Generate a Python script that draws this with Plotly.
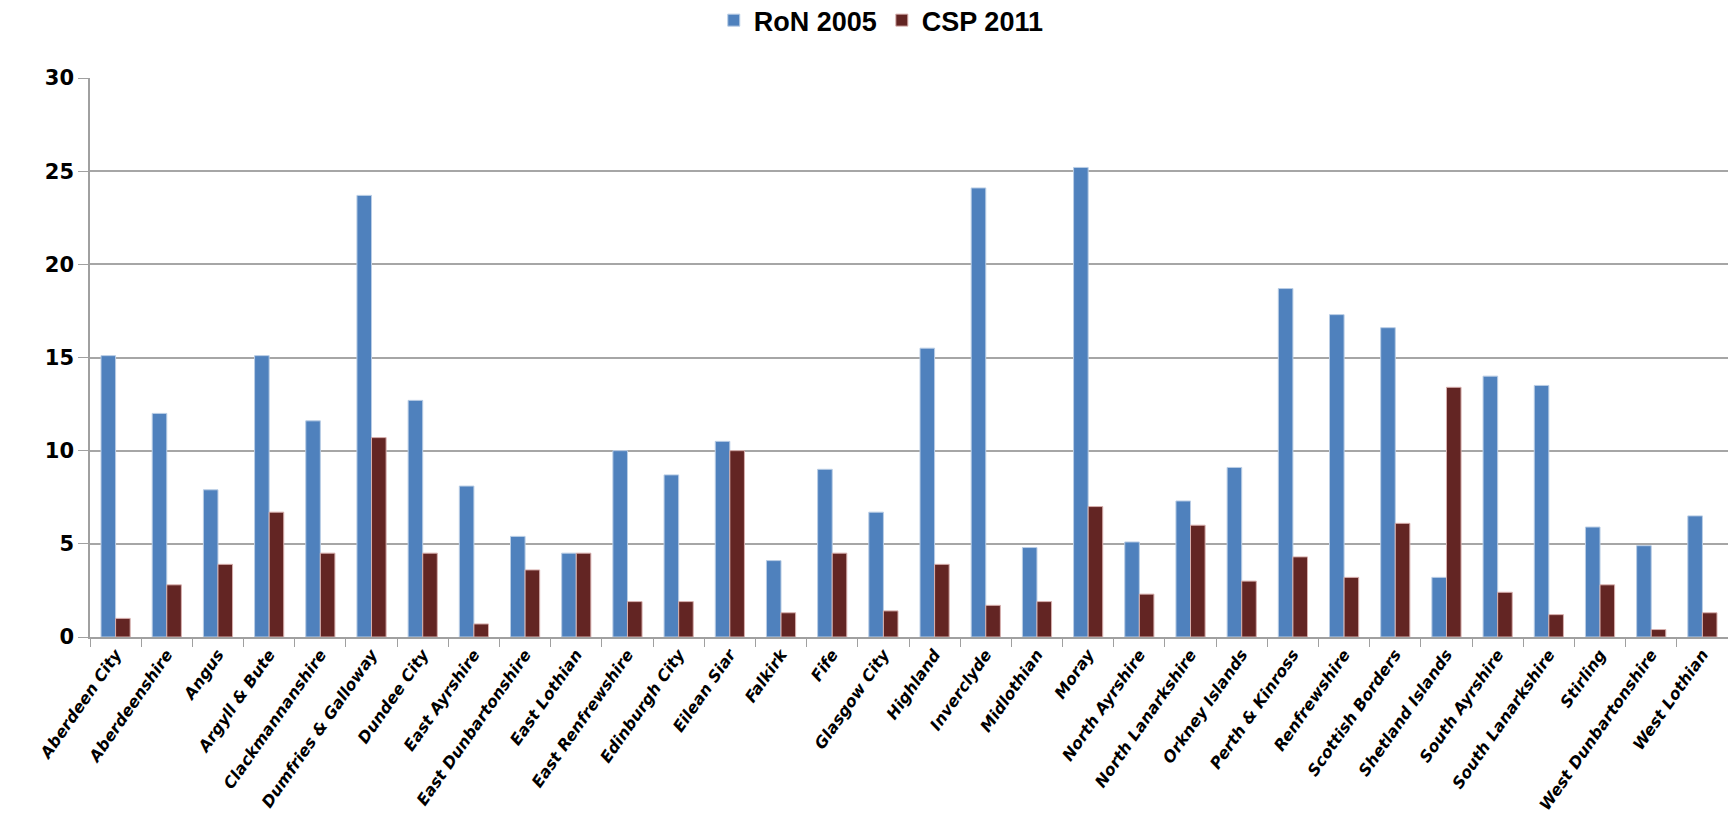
import plotly.graph_objects as go

categories = ["Aberdeen City", "Aberdeenshire", "Angus", "Argyll & Bute", "Clackmannanshire",
              "Dumfries & Galloway", "Dundee City", "East Ayrshire", "East Dunbartonshire",
              "East Lothian", "East Renfrewshire", "Edinburgh City", "Eilean Siar", "Falkirk",
              "Fife", "Glasgow City", "Highland", "Inverclyde", "Midlothian", "Moray",
              "North Ayrshire", "North Lanarkshire", "Orkney Islands", "Perth & Kinross",
              "Renfrewshire", "Scottish Borders", "Shetland Islands", "South Ayrshire",
              "South Lanarkshire", "Stirling", "West Dunbartonshire", "West Lothian"]

ron_2005 = [15.1, 12.0, 7.9, 15.1, 11.6, 23.7, 12.7, 8.1, 5.4, 4.5, 10.0, 8.7, 10.5, 4.1,
            9.0, 6.7, 15.5, 24.1, 4.8, 25.2, 5.1, 7.3, 9.1, 18.7, 17.3, 16.6, 3.2, 14.0,
            13.5, 5.9, 4.9, 6.5]
csp_2011 = [1.0, 2.8, 3.9, 6.7, 4.5, 10.7, 4.5, 0.7, 3.6, 4.5, 1.9, 1.9, 10.0, 1.3,
            4.5, 1.4, 3.9, 1.7, 1.9, 7.0, 2.3, 6.0, 3.0, 4.3, 3.2, 6.1, 13.4, 2.4,
            1.2, 2.8, 0.4, 1.3]

series_names = ["RoN 2005", "CSP 2011"]
y_ticks = [0, 5, 10, 15, 20, 25, 30]

fig = go.Figure()
fig.add_trace(go.Bar(x=categories, y=ron_2005, name=series_names[0],
                     marker=dict(color="#4F81BD", line=dict(color="#B9CDE5", width=1))))
fig.add_trace(go.Bar(x=categories, y=csp_2011, name=series_names[1],
                     marker=dict(color="#632523", line=dict(color="#D8B0AE", width=1))))

fig.update_layout(
    width=1728, height=823,
    margin=dict(l=90, r=0, t=78, b=186, autoexpand=False),
    plot_bgcolor="white", paper_bgcolor="white",
    barmode="group", bargap=0.43, bargroupgap=0,
    showlegend=True,
    legend=dict(orientation="h", xref="container", yref="container",
                x=0.51, y=0.975, xanchor="center", yanchor="middle",
                font=dict(family="Liberation Sans Narrow, Liberation Sans, Arial", size=27,
                          color="black", weight="bold"),
                itemwidth=30, traceorder="normal"),
    xaxis=dict(type="category", tickangle=-55, showgrid=False,
               showline=True, linecolor="#a0a0a0", linewidth=1.5,
               ticks="outside", tickson="boundaries", ticklen=8, tickcolor="#a0a0a0",
               tickfont=dict(family="DejaVu Sans", size=16, color="black",
                             weight="bold", style="italic")),
    yaxis=dict(range=[0, 30], tickvals=y_ticks, showgrid=True, gridcolor="#a6a6a6",
               gridwidth=1.5, showline=True, linecolor="#a0a0a0", linewidth=1.5,
               ticks="outside", ticklen=10, tickcolor="#a0a0a0", zeroline=False,
               tickfont=dict(family="DejaVu Sans", size=21, color="black", weight="bold")),
)

fig.write_html("out.html")
